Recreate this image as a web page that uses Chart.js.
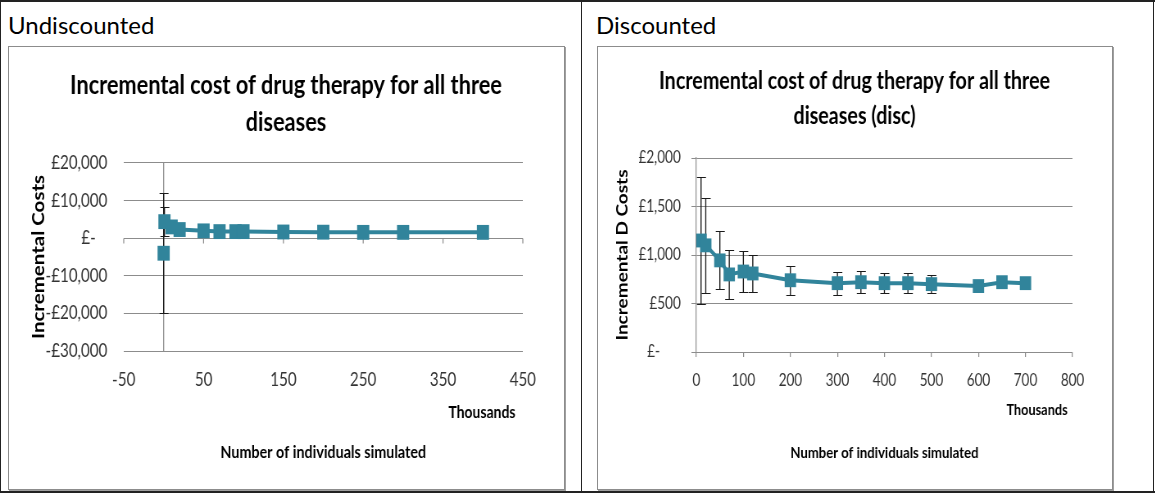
<!DOCTYPE html>
<html>
<head>
<meta charset="utf-8">
<script src="https://cdn.jsdelivr.net/npm/chart.js@4.4.0/dist/chart.umd.min.js"></script>
<style>
  html, body { margin: 0; padding: 0; background: #fff; }
  body { width: 1155px; height: 493px; position: relative; overflow: hidden; }
  .line { position: absolute; background: #222; }
  .head { position: absolute; font-family: Lato, "Open Sans", sans-serif; font-size: 24px; line-height: 28px; color: #000; }
  .frame { position: absolute; border: 1px solid #8c8c8c; box-shadow: 1px 1px 0 #a0a0a0; background: #fff; }
  canvas { position: absolute; transform-origin: 0 0; }
</style>
</head>
<body>
<div class="line" style="left:0;top:0;width:1155px;height:2px;"></div>
<div class="line" style="left:0;top:491px;width:1155px;height:2px;"></div>
<div class="line" style="left:0;top:0;width:1px;height:493px;"></div>
<div class="line" style="left:581px;top:0;width:1px;height:493px;"></div>
<div class="line" style="left:1153px;top:0;width:1px;height:493px;"></div>

<div class="head" style="left:8px;top:11px;">Undiscounted</div>
<div class="head" style="left:596px;top:11px;">Discounted</div>

<div class="frame" style="left:8px;top:46px;width:555px;height:442px;"></div>
<div class="frame" style="left:597px;top:46px;width:514px;height:442px;"></div>

<!-- the original chart pictures are squeezed horizontally; the canvases are drawn wide and scaled to the same squeeze -->
<canvas id="c1" width="676" height="440" style="left:9px;top:47px;transform:scaleX(0.8195);"></canvas>
<canvas id="c2" width="626" height="440" style="left:598px;top:47px;transform:scaleX(0.8195);"></canvas>

<script>
// ---------- Data: Undiscounted ----------
const undiscX      = [0, 1, 10, 20, 50, 70, 90, 100, 150, 200, 250, 300, 400];   // thousands simulated
const undiscCost   = [-4000, 4400, 3000, 2300, 1950, 1750, 1750, 1750, 1650, 1600, 1550, 1550, 1550];
const undiscError  = [16000, 3800, 0, 0, 0, 0, 0, 0, 0, 0, 0, 0, 0];
const undiscXTicks = [-50, 50, 150, 250, 350, 450];
const undiscYTicks = [-30000, -20000, -10000, 0, 10000, 20000];

// ---------- Data: Discounted ----------
const discX      = [10, 20, 50, 70, 100, 120, 200, 300, 350, 400, 450, 500, 600, 650, 700];
const discCost   = [1150, 1100, 945, 800, 830, 810, 740, 710, 720, 710, 710, 700, 680, 720, 710];
const discError  = [650, 490, 300, 255, 215, 195, 150, 120, 115, 105, 100, 90, 60, 45, 30];
const discXTicks = [0, 100, 200, 300, 400, 500, 600, 700, 800];
const discYTicks = [0, 500, 1000, 1500, 2000];

const TEAL = '#31849B';
const FONT = 'Lato, "Open Sans", sans-serif';
const SQ = 0.8195;   // horizontal squeeze of the canvases

function pounds(v, pad) {
  if (v === 0) return '£-' + pad;
  const s = '£' + Math.abs(v).toLocaleString('en-GB');
  return v < 0 ? '-' + s : s;
}

const decor = {
  id: 'decor',
  beforeDatasetsDraw(chart, args, o) {
    const ctx = chart.ctx, xs = chart.scales.x, ys = chart.scales.y, a = chart.chartArea;
    ctx.save();
    if (o.zeroAxis) {
      ctx.strokeStyle = '#8c8c8c';
      ctx.lineWidth = 1 / SQ;
      ctx.beginPath();
      const px = xs.getPixelForValue(0);
      ctx.moveTo(px, a.top); ctx.lineTo(px, a.bottom);
      const py = Math.round(ys.getPixelForValue(0)) + 0.5;
      xs.ticks.forEach(t => {
        const x = xs.getPixelForValue(t.value);
        ctx.moveTo(x, py); ctx.lineTo(x, py + 5);
      });
      ctx.stroke();
    }
    chart.data.datasets.forEach(ds => {
      if (!ds.errors) return;
      ctx.strokeStyle = '#1a1a1a';
      ds.data.forEach((p, j) => {
        const e = ds.errors[j];
        if (!e) return;
        const x = xs.getPixelForValue(p.x);
        const y1 = Math.round(ys.getPixelForValue(p.y + e)) + 0.5;
        const y2 = Math.round(ys.getPixelForValue(p.y - e)) + 0.5;
        ctx.lineWidth = 1.1 / SQ;
        ctx.beginPath();
        ctx.moveTo(x, y1); ctx.lineTo(x, y2);
        ctx.stroke();
        ctx.lineWidth = 1;
        ctx.beginPath();
        ctx.moveTo(x - 5, y1); ctx.lineTo(x + 6, y1);
        ctx.moveTo(x - 5, y2); ctx.lineTo(x + 6, y2);
        ctx.stroke();
      });
    });
    ctx.restore();
  },
  afterDraw(chart, args, o) {
    if (!o.unitLabel) return;
    const ctx = chart.ctx, a = chart.chartArea;
    ctx.save();
    ctx.font = 'bold ' + o.unitSize + 'px ' + FONT;
    ctx.fillStyle = '#000';
    ctx.textAlign = 'right';
    ctx.textBaseline = 'middle';
    ctx.fillText(o.unitLabel, a.right - o.unitDx, a.bottom + o.unitDy);
    ctx.restore();
  }
};
Chart.register(decor);

function makeChart(id, cfg) {
  const pts = cfg.xs.map((x, i) => ({ x: x, y: cfg.ys[i] }));
  return new Chart(document.getElementById(id), {
    type: 'line',
    data: {
      datasets: [{
        data: pts,
        errors: cfg.err,
        yAxisID: 'y',
        borderColor: TEAL,
        backgroundColor: TEAL,
        borderWidth: 4,
        pointStyle: 'rect',
        pointRadius: cfg.pr,
        pointBorderWidth: 0,
        pointBackgroundColor: TEAL,
        tension: 0,
        segment: cfg.segment || {}
      }]
    },
    options: {
      responsive: false,
      animation: false,
      devicePixelRatio: 1,
      layout: { padding: 0 },
      plugins: {
        legend: { display: false },
        tooltip: { enabled: false },
        title: {
          display: true,
          text: cfg.title,
          color: '#000',
          font: { family: FONT, weight: 'bold', size: cfg.titleSize, lineHeight: cfg.titleLH },
          padding: { top: cfg.titlePadTop, bottom: cfg.titlePadBottom }
        },
        decor: cfg.decor
      },
      scales: {
        x: {
          type: 'linear',
          min: cfg.xTicks[0],
          max: cfg.xTicks[cfg.xTicks.length - 1],
          afterBuildTicks: s => { s.ticks = cfg.xTicks.map(v => ({ value: v })); },
          afterFit: s => { s.height = cfg.xHeight; },
          ticks: { color: '#333', font: { family: FONT, size: cfg.xTickSize }, padding: cfg.xTickPad, maxRotation: 0, callback: v => String(v) },
          grid: cfg.xGrid,
          border: cfg.xBorder,
          title: {
            display: true, text: 'Number of individuals simulated', color: '#000',
            font: { family: FONT, weight: 'bold', size: cfg.xTitleSize },
            padding: { top: 0, bottom: cfg.xTitlePad }
          }
        },
        y: {
          position: 'left',
          min: cfg.yTicks[0],
          max: cfg.yTicks[cfg.yTicks.length - 1],
          afterBuildTicks: s => { s.ticks = cfg.yTicks.map(v => ({ value: v })); },
          afterFit: s => { s.width = cfg.yWidth; },
          ticks: { color: '#333', font: { family: FONT, size: cfg.yTickSize }, padding: cfg.yTickPad, callback: v => pounds(v, cfg.zeroPad) },
          grid: cfg.yGrid,
          border: cfg.yBorder,
          title: {
            display: true, text: cfg.yTitle, color: '#000',
            font: { family: FONT, weight: 'bold', size: cfg.yTitleSize },
            padding: { top: cfg.yTitlePad, bottom: 0 }
          }
        },
        // empty margin on the right of the plot (keeps the chart title centred on the whole picture)
        yRight: {
          position: 'right',
          display: true,
          afterFit: s => { s.width = cfg.rightMargin; },
          grid: { display: false, drawTicks: false },
          border: { display: false },
          ticks: { display: false }
        }
      }
    }
  });
}

makeChart('c1', {
  xs: undiscX, ys: undiscCost, err: undiscError,
  xTicks: undiscXTicks, yTicks: undiscYTicks,
  pr: 10.5,
  segment: { borderColor: c => c.p0DataIndex === 0 ? 'rgba(0,0,0,0)' : undefined },
  title: ['Incremental cost of drug therapy for all three', 'diseases'],
  titleSize: 26.5, titleLH: 1.396, titlePadTop: 20, titlePadBottom: 22,
  rightMargin: 49,
  xHeight: 136, xTickSize: 18.5, xTickPad: 18, xTitleSize: 17.5, xTitlePad: 24,
  xGrid: { display: false, drawTicks: false },
  xBorder: { display: false },
  yWidth: 140, yTickSize: 18.5, yTickPad: 20, yTitle: 'Incremental Costs', yTitleSize: 20.5, yTitlePad: 24, zeroPad: '   ',
  yGrid: { color: '#8c8c8c', drawTicks: false },
  yBorder: { display: false },
  decor: { zeroAxis: true, unitLabel: 'Thousands', unitSize: 17, unitDx: 9, unitDy: 62 }
});

makeChart('c2', {
  xs: discX, ys: discCost, err: discError,
  xTicks: discXTicks, yTicks: discYTicks,
  pr: 9.8,
  title: ['Incremental cost of drug therapy for all three', 'diseases (disc)'],
  titleSize: 24, titleLH: 1.46, titlePadTop: 17, titlePadBottom: 24,
  rightMargin: 47,
  xHeight: 135, xTickSize: 16.5, xTickPad: 14, xTitleSize: 16, xTitlePad: 25,
  xGrid: { display: true, drawOnChartArea: false, drawTicks: true, tickLength: 5, color: '#8c8c8c', lineWidth: 1 / SQ },
  xBorder: { display: true, color: '#8c8c8c' },
  yWidth: 120, yTickSize: 16.5, yTickPad: 13, yTitle: 'Incremental D Costs', yTitleSize: 19, yTitlePad: 18, zeroPad: '      ',
  yGrid: { color: '#8c8c8c', drawTicks: true, tickLength: 6 },
  yBorder: { display: true, color: '#8c8c8c', width: 1 / SQ },
  decor: { zeroAxis: false, unitLabel: 'Thousands', unitSize: 15.5, unitDx: 6, unitDy: 58 }
});
</script>
</body>
</html>
